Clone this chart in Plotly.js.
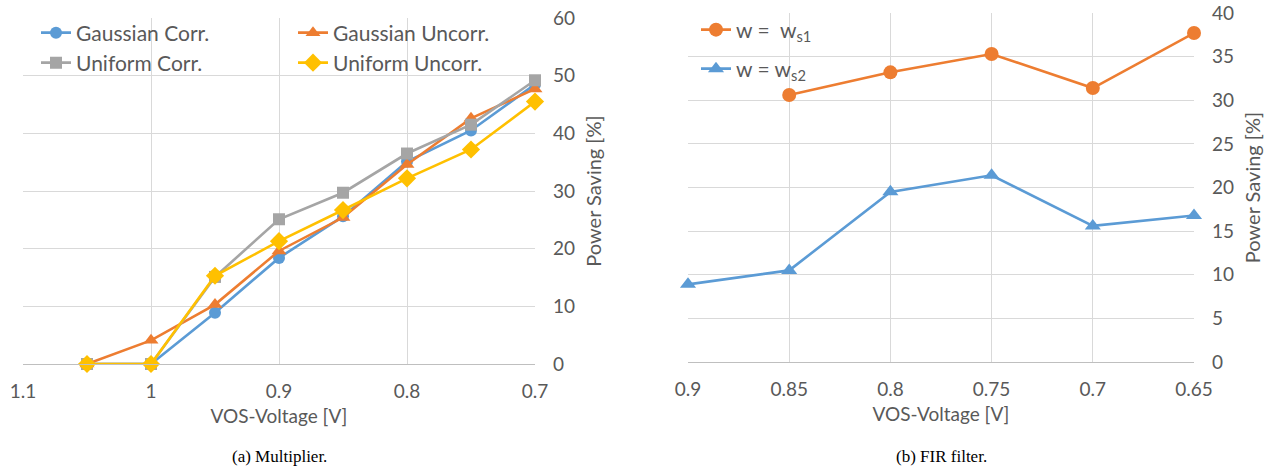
<!DOCTYPE html>
<html>
<head>
<meta charset="utf-8">
<script src="https://cdn.plot.ly/plotly-3.0.1.min.js"></script>
<style>html,body{margin:0;padding:0;background:#fff;}#chart{width:1271px;height:470px;}</style>
</head>
<body>
<div id="chart"></div>
<script>
// ---- Data: (a) Multiplier ----
const voltA = [1.05, 1.0, 0.95, 0.9, 0.85, 0.8, 0.75, 0.7];
const gaussCorr   = [0, 0, 8.9, 18.4, 25.6, 35.1, 40.5, 48.5];
const gaussUncorr = [0, 4.1, 10.3, 19.6, 25.4, 34.6, 42.6, 47.7];
const unifCorr    = [0, 0, 15.1, 25.1, 29.7, 36.5, 41.5, 49.2];
const unifUncorr  = [0, 0, 15.3, 21.3, 26.7, 32.2, 37.2, 45.5];
const ticksA = [1.1, 1.0, 0.9, 0.8, 0.7];
const ticksAText = ["1.1", "1", "0.9", "0.8", "0.7"];

// ---- Data: (b) FIR filter ----
const voltB = [0.9, 0.85, 0.8, 0.75, 0.7, 0.65];
const ws1 = [null, 30.6, 33.2, 35.3, 31.4, 37.7];
const ws2 = [8.9, 10.5, 19.5, 21.4, 15.6, 16.8];
const ticksB = [0.9, 0.85, 0.8, 0.75, 0.7, 0.65];
const ticksBText = ["0.9", "0.85", "0.8", "0.75", "0.7", "0.65"];

const FONT = "Lato, 'Open Sans', sans-serif";
const GRAY = "#595959";
const GRID = "#d9d9d9";
const C_BLUE = "#5B9BD5", C_ORANGE = "#ED7D31", C_GRAY = "#A5A5A5", C_YELLOW = "#FFC000";
const W = 1271, H = 470;
const px = v => v / W;
const py = v => 1 - v / H;

function tr(x, y, name, color, symbol, size, xa, ya, legend) {
  return {x: x, y: y, name: name, type: "scatter", mode: "lines+markers",
    xaxis: xa, yaxis: ya, legend: legend, cliponaxis: false,
    line: {color: color, width: 2.6},
    marker: {color: color, symbol: symbol, size: size},
    connectgaps: false};
}

const data = [
  tr(voltA, gaussCorr, "Gaussian Corr.", C_BLUE, "circle", 12, "x", "y", "legend"),
  tr(voltA, gaussUncorr, "Gaussian Uncorr.", C_ORANGE, "triangle-up", 13, "x", "y", "legend"),
  tr(voltA, unifCorr, "Uniform Corr.", C_GRAY, "square", 12, "x", "y", "legend2"),
  tr(voltA, unifUncorr, "Uniform Uncorr.", C_YELLOW, "diamond", 14, "x", "y", "legend2"),
  tr(voltB, ws1, "w =  w<sub>s1</sub>", C_ORANGE, "circle", 14, "x2", "y2", "legend3"),
  tr(voltB, ws2, "w = w<sub>s2</sub>", C_BLUE, "triangle-up", 14, "x2", "y2", "legend4")
];

function xax(domain, range, tv, tt, anchor) {
  return {domain: domain, range: range, anchor: anchor, tickmode: "array", tickvals: tv, ticktext: tt,
    showgrid: true, gridcolor: GRID, gridwidth: 1, zeroline: false,
    showline: true, linecolor: "#bfbfbf", linewidth: 1, ticks: "",
    tickfont: {family: FONT, size: 19, color: GRAY}, ticklabelstandoff: 10,
    title: {text: "VOS-Voltage [V]", font: {family: FONT, size: 19, color: GRAY}, standoff: 8},
    fixedrange: true};
}
function yax(domain, range, dtick, anchor) {
  return {domain: domain, range: range, anchor: anchor, side: "right", dtick: dtick, tick0: 0,
    showgrid: true, gridcolor: GRID, gridwidth: 1, zeroline: false, showline: false, ticks: "",
    tickfont: {family: FONT, size: 19, color: GRAY}, ticklabelstandoff: 17,
    title: {text: "Power Saving [%]", font: {family: FONT, size: 20, color: GRAY}, standoff: 12},
    fixedrange: true};
}

const legendBase = {bgcolor: "rgba(0,0,0,0)", borderwidth: 0,
  font: {family: FONT, size: 21, color: GRAY}, xanchor: "left", yanchor: "middle", itemwidth: 30};

const layout = {
  width: W, height: H,
  margin: {l: 0, r: 0, t: 0, b: 0},
  paper_bgcolor: "#fff", plot_bgcolor: "#fff",
  font: {family: FONT, color: GRAY},
  xaxis: xax([px(23), px(535)], [1.1, 0.7], ticksA, ticksAText, "y"),
  yaxis: yax([py(364), py(18)], [0, 60], 10, "x"),
  xaxis2: xax([px(688), px(1194)], [0.9, 0.65], ticksB, ticksBText, "y2"),
  yaxis2: yax([py(362), py(13)], [0, 40], 5, "x2"),
  legend: Object.assign({}, legendBase, {orientation: "h", x: px(36), y: py(33), entrywidth: 212, entrywidthmode: "pixels"}),
  legend2: Object.assign({}, legendBase, {orientation: "h", x: px(36), y: py(63), entrywidth: 212, entrywidthmode: "pixels"}),
  legend3: Object.assign({}, legendBase, {orientation: "v", x: px(696), y: py(30)}),
  legend4: Object.assign({}, legendBase, {orientation: "v", x: px(696), y: py(69)}),
  showlegend: true,
  annotations: [
    {text: "(a) Multiplier.", x: px(279), y: py(456), xref: "paper", yref: "paper", showarrow: false,
     xanchor: "center", yanchor: "middle",
     font: {family: "'Liberation Serif', 'Times New Roman', serif", size: 17, color: "#000"}},
    {text: "(b) FIR filter.", x: px(941), y: py(456), xref: "paper", yref: "paper", showarrow: false,
     xanchor: "center", yanchor: "middle",
     font: {family: "'Liberation Serif', 'Times New Roman', serif", size: 17, color: "#000"}}
  ]
};

Plotly.newPlot("chart", data, layout, {displayModeBar: false, staticPlot: true});
</script>
</body>
</html>
